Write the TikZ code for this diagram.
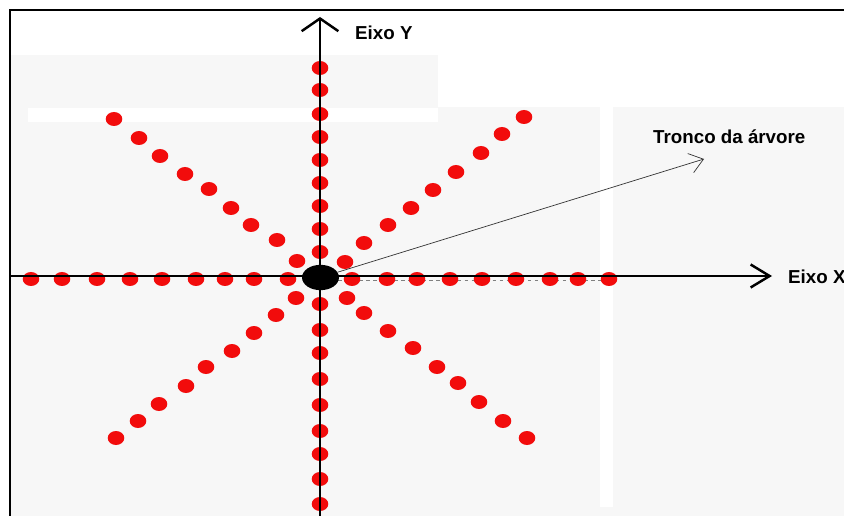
\documentclass[tikz,border=0pt]{standalone}
\usepackage{fontspec}
\setmainfont{Liberation Sans}
\usetikzlibrary{positioning,arrows.meta,shapes.geometric}
\definecolor{paper}{HTML}{F7F7F7}
\definecolor{dotred}{HTML}{F20C0C}
\tikzset{
  axisline/.style={line width=2.1pt, black},
  frameline/.style={line width=1.6pt, black},
  reddot/.style={fill=dotred},
  basedot/.style={ellipse, fill=black, minimum width=1.11cm, minimum height=0.76cm, inner sep=0pt},
  axislabel/.style={font=\bfseries\fontsize{16}{19}\selectfont, anchor=west, inner sep=0pt},
  trunkarrow/.style={-{Straight Barb[length=4mm, width=6mm]}, line width=0.6pt, black!80},
  guideline/.style={dashed, gray, line width=0.6pt}
}

\begin{document}
\begin{tikzpicture}[x=0.03cm, y=-0.03cm]
  \useasboundingbox (0,0) rectangle (844,516);
  \fill[white] (0,0) rectangle (844,516);
  \fill[paper] (10,10) rectangle (844,516);
  \fill[white] (10,10) rectangle (844,55);
  \fill[white] (438,55) rectangle (844,107);
  \fill[white] (28,108) rectangle (438,122);
  \fill[white] (600,107) rectangle (613,507);
  \draw[frameline] (10,516) -- (10,10) -- (844,10);

  \coordinate (ytip) at (320,17);
  \coordinate (ybot) at (320,516);
  \coordinate (xtail) at (10,276);
  \coordinate (xtip) at (772,276);
  \coordinate (trunktip) at (704,159);
  \coordinate (guideA) at (338,280);
  \coordinate (guideB) at (608,280);

  \draw[guideline] (guideA) -- (guideB);

  \foreach \y in {68,90,114,137,160,183,206,229,252,304,330,353,379,405,431,454,479,504}
    \fill[reddot] (320,\y) ellipse [x radius=8.3, y radius=7];
  \foreach \x in {31,62,97,130,162,196,225,254,288,352,387,417,450,482,516,550,578,609}
    \fill[reddot] (\x,279) ellipse [x radius=8.3, y radius=7];
  \foreach \x/\y in {114/119,139/138,160/156,185/174,209/189,231/208,251/225,277/240,297/261,
                     345/262,364/243,388/225,411/208,433/190,456/172,481/153,502/134,524/117,
                     296/298,276/315,254/333,232/351,206/367,186/386,159/404,138/421,116/438,
                     347/298,364/313,388/331,413/348,437/367,458/383,479/402,503/421,527/438}
    \fill[reddot] (\x,\y) ellipse [x radius=8.3, y radius=7];

  \draw[axisline, -{Straight Barb[length=3.8mm, width=11mm]}] (ybot) -- (ytip);
  \draw[axisline, -{Straight Barb[length=5.7mm, width=6.9mm]}] (xtail) -- (xtip);

  \node[basedot] (base) at (320.5,277.5) {};
  \draw[trunkarrow] (base) -- (trunktip);

  \node[axislabel] (eixoy) at (355,33) {Eixo Y};
  \node[axislabel] (eixox) at (788,277) {Eixo X};
  \node[axislabel] (tronco) at (653,137) {Tronco da árvore};
\end{tikzpicture}
\end{document}
